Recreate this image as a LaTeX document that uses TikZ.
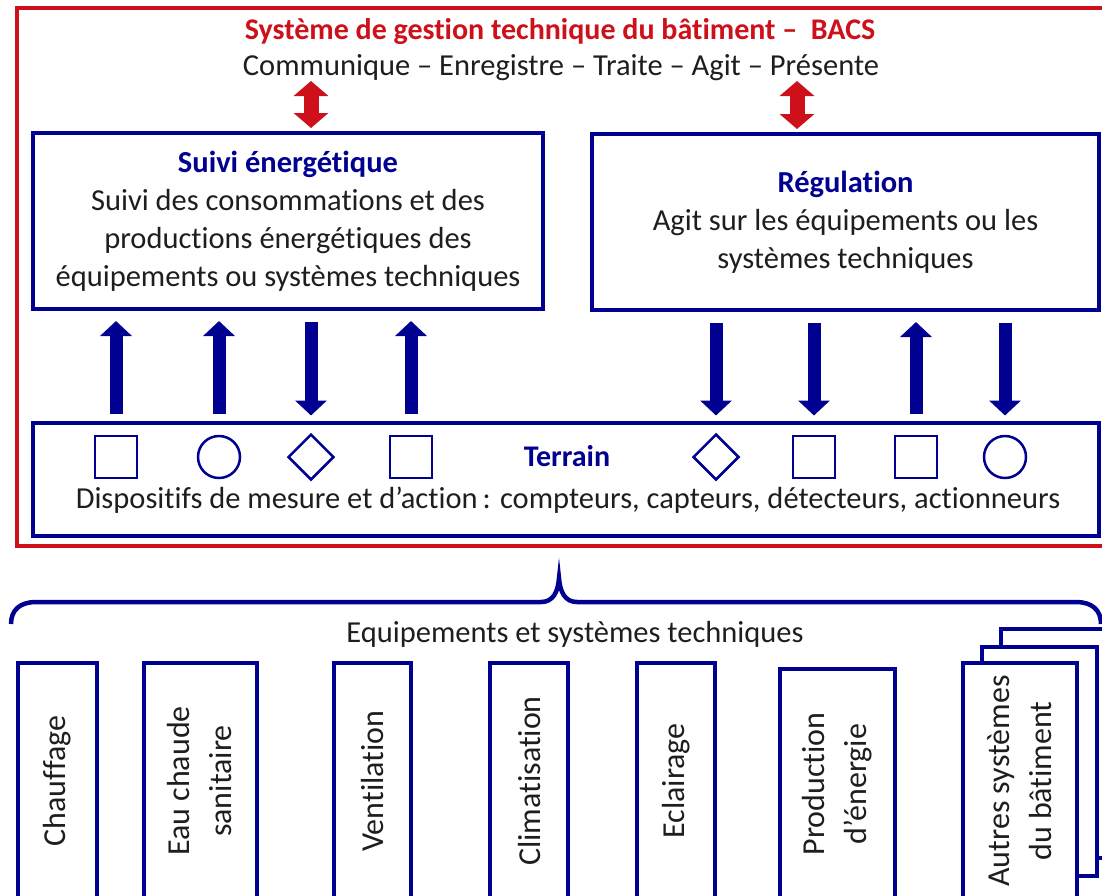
\documentclass[tikz,border=0pt]{standalone}
\usepackage{fontspec}
\setmainfont{Carlito}[Ligatures=NoCommon]
\usetikzlibrary{arrows.meta,shapes.geometric}

\definecolor{bleuF}{RGB}{0,0,145}
\definecolor{rougeF}{RGB}{205,16,26}
\definecolor{encre}{RGB}{30,30,30}

\begin{document}
\begin{tikzpicture}[x=1pt,y=-1pt,
			cadre/.style={draw=bleuF,line width=4pt,fill=white,align=center,inner sep=0pt,
				text=encre,font=\fontsize{30.5}{38}\selectfont},
			ligne/.style={text=encre,font=\fontsize{30.5}{34}\selectfont},
			titrebleu/.style={text=bleuF,font=\fontsize{30}{34}\selectfont\bfseries},
			equip/.style={draw=bleuF,line width=4pt,fill=white,rotate=90,minimum width=236pt,
				align=center,inner sep=0pt,text=encre,font=\fontsize{32}{42}\selectfont},
			capteur/.style={draw=bleuF,line width=2.5pt,inner sep=0pt,minimum size=42pt},
			carre/.style={capteur,rectangle},
			rond/.style={capteur,circle},
			losange/.style={capteur,diamond,minimum size=46pt},
			monte/.style={bleuF,line width=13pt,-{Triangle[width=31pt,length=15pt]},
				shorten <=7pt,shorten >=10pt},
			descend/.style={bleuF,line width=13pt,-{Triangle[width=31pt,length=15pt]},
				shorten <=11pt,shorten >=5pt},
			echange/.style={rougeF,line width=15pt,
				{Triangle[width=34pt,length=15pt]}-{Triangle[width=34pt,length=15pt]}},
			accolade/.style={draw=bleuF,line width=4.5pt}]
			\useasboundingbox (0,0) rectangle (1102,895);
			\clip (0,0) rectangle (1102,895);

			% cadre BACS
			\draw[rougeF,line width=3.5pt] (17,8) rectangle (1130,546);
			\node[text=rougeF,font=\fontsize{30}{34}\selectfont\bfseries] (titre) at (560,32)
				{Système de gestion technique du bâtiment –\ \ BACS};
			\node[ligne] (comm) at (561,68)
				{Communique – Enregistre – Traite – Agit – Présente};

			% fonctions
			\node[cadre,minimum width=510pt,minimum height=176pt] (suivi) at (288,221)
				{\textcolor{bleuF}{\bfseries Suivi énergétique}\\
				Suivi des consommations et des\\
				productions énergétiques des\\
				équipements ou systèmes techniques};
			\node[cadre,minimum width=507pt,minimum height=176pt] (regul) at (845.5,222)
				{\textcolor{bleuF}{\bfseries Régulation}\\
				Agit sur les équipements ou les\\
				systèmes techniques};

			\coordinate (h1) at (311,81);
			\coordinate (h2) at (797,81);
			\draw[echange,shorten >=3pt] (h1) -- (h1 |- suivi.north);
			\draw[echange,shorten >=3pt] (h2) -- (h2 |- regul.north);

			% terrain
			\node[draw=bleuF,line width=4pt,minimum width=1066pt,minimum height=113pt] (terrain) at (566,479) {};
			\node[carre] (s1) at (116,457) {};
			\node[rond] (s2) at (219,457) {};
			\node[losange] (s3) at (311,457) {};
			\node[carre] (s4) at (411,457) {};
			\node[titrebleu] (nomterrain) at (567,456) {Terrain};
			\node[losange] (s5) at (716,457) {};
			\node[carre] (s6) at (814,457) {};
			\node[carre] (s7) at (916,457) {};
			\node[rond] (s8) at (1005,457) {};
			\node[ligne] (dispo) at (568,500)
				{Dispositifs de mesure et d’action\,: compteurs, capteurs, détecteurs, actionneurs};

			% echanges terrain
			\draw[monte] (s1 |- terrain.north) -- (s1 |- suivi.south);
			\draw[monte] (s2 |- terrain.north) -- (s2 |- suivi.south);
			\draw[descend] (s3 |- suivi.south) -- (s3 |- terrain.north);
			\draw[monte] (s4 |- terrain.north) -- (s4 |- suivi.south);
			\draw[descend] (s5 |- regul.south) -- (s5 |- terrain.north);
			\draw[descend] (s6 |- regul.south) -- (s6 |- terrain.north);
			\draw[monte] (s7 |- terrain.north) -- (s7 |- regul.south);
			\draw[descend] (s8 |- regul.south) -- (s8 |- terrain.north);

			% equipements
			\draw[accolade] (11,624) .. controls (11,610) and (20,602) .. (36,602) -- (541,602)
				.. controls (553,602) and (558,592) .. (559,578)
				.. controls (560,592) and (565,602) .. (577,602) -- (1076,602)
				.. controls (1092,602) and (1101,610) .. (1101,624);
			\node[ligne] (nomequip) at (575,634)
				{Equipements et systèmes techniques};

			\node[equip,minimum height=79pt] (chauffage) at (57.5,781) {Chauffage};
			\node[equip,minimum height=113pt] (ecs) at (200,781) {Eau chaude\\sanitaire};
			\node[equip,minimum height=77pt] (ventil) at (372.5,781) {Ventilation};
			\node[equip,minimum height=78pt] (clim) at (529,781) {Climatisation};
			\node[equip,minimum height=78pt] (eclair) at (676,781) {Eclairage};
			\node[equip,minimum height=115pt,minimum width=230pt] (prod) at (837.5,784) {Production\\d’énergie};
			\node[draw=bleuF,line width=4pt,fill=white,minimum width=115pt,minimum height=229pt] (autres3) at (1058.5,743.5) {};
			\node[draw=bleuF,line width=4pt,fill=white,minimum width=115pt,minimum height=229pt] (autres2) at (1039.5,761.5) {};
			\node[equip,minimum height=114pt] (autres) at (1020,781) {Autres systèmes\\du bâtiment};
			\end{tikzpicture}
\end{document}
